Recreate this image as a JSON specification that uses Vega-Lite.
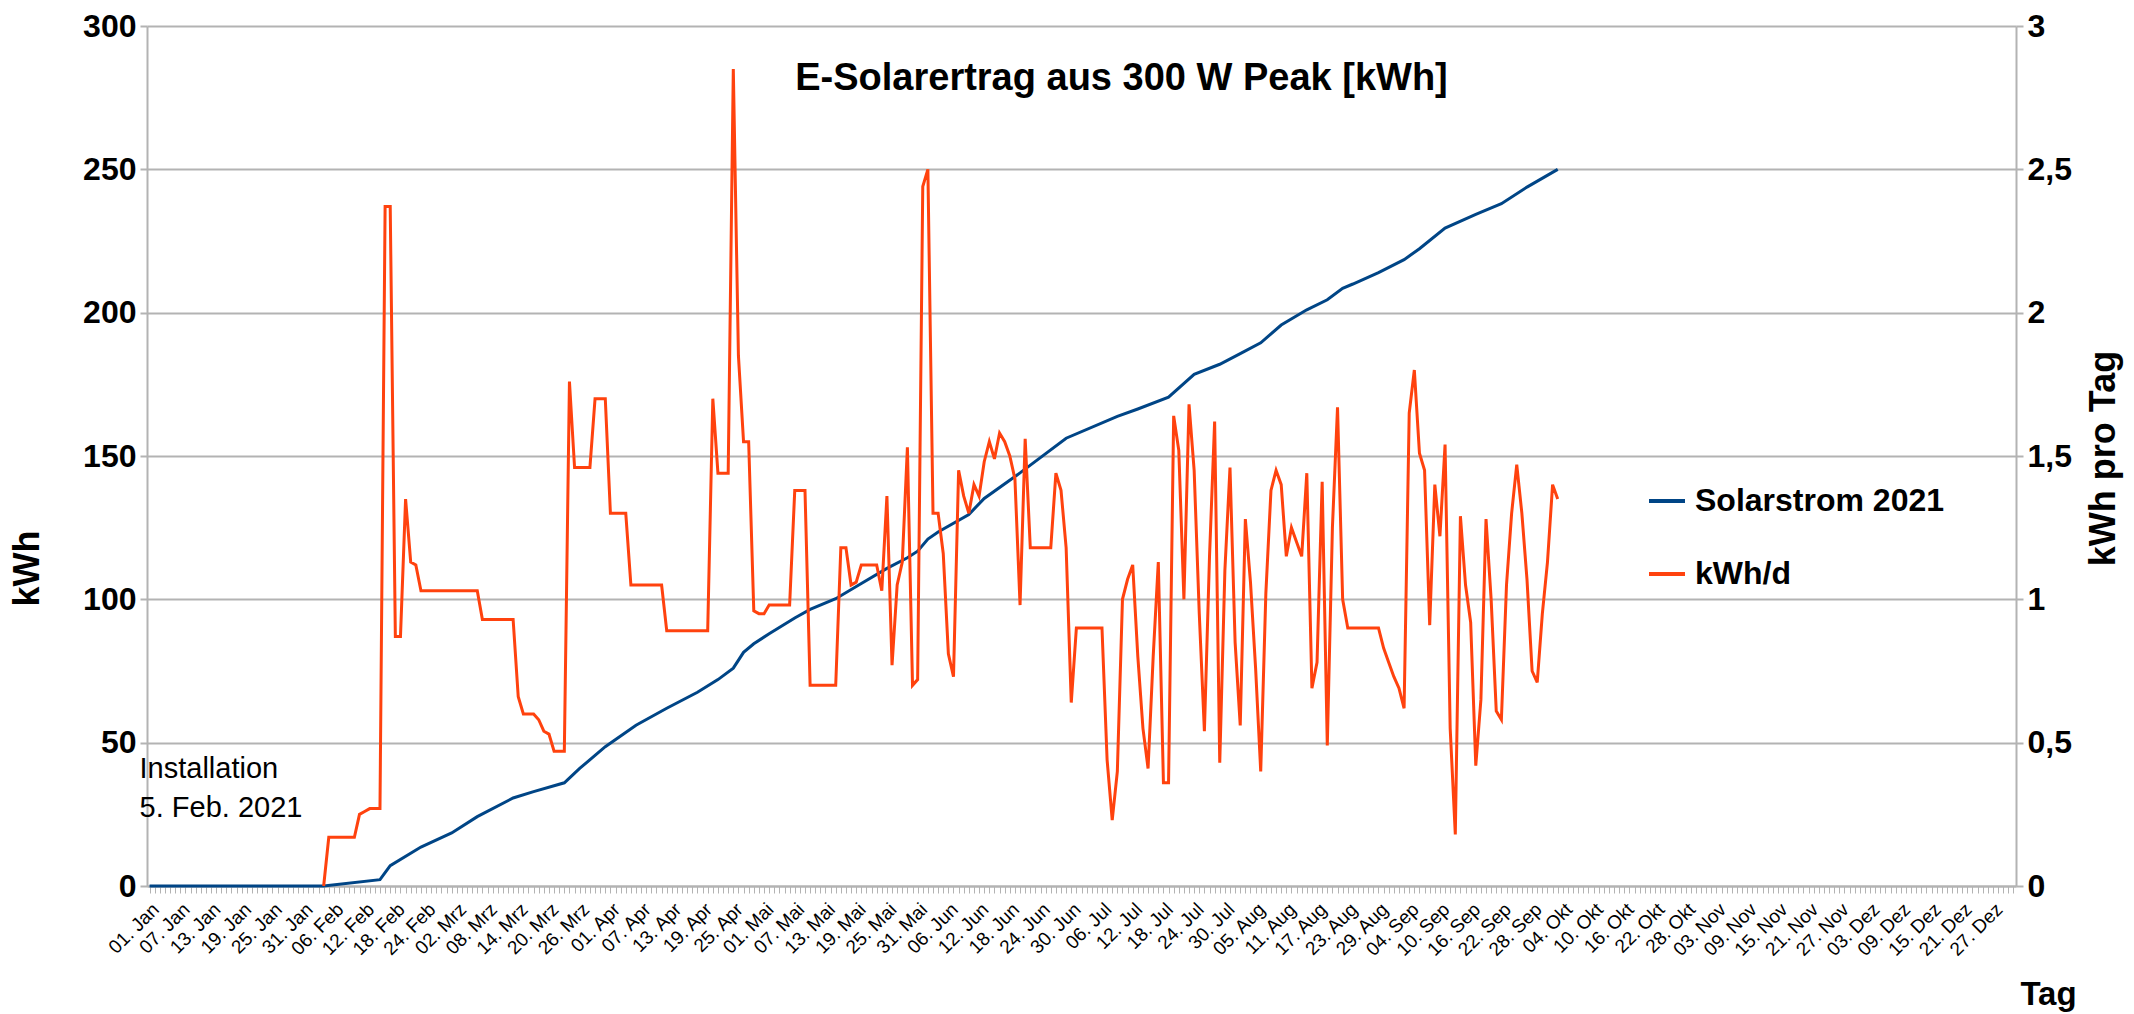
{
  "$schema": "https://vega.github.io/schema/vega-lite/v6.json",
  "width": 1869,
  "height": 860,
  "autosize": {"type": "none"},
  "padding": {"left": 147, "top": 26, "right": 118, "bottom": 128},
  "background": "white",
  "title": {
    "text": "E-Solarertrag aus 300 W Peak [kWh]",
    "fontSize": 38,
    "fontWeight": "bold",
    "color": "#000000",
    "anchor": "middle",
    "dx": 40,
    "offset": -118,
    "baseline": "alphabetic"
  },
  "datasets": {
    "cumulative": [
      {"date": "2021-01-01", "kwh": 0},
      {"date": "2021-02-04", "kwh": 0},
      {"date": "2021-02-15", "kwh": 2.2},
      {"date": "2021-02-17", "kwh": 7.1},
      {"date": "2021-02-23", "kwh": 13.6},
      {"date": "2021-03-01", "kwh": 18.5},
      {"date": "2021-03-06", "kwh": 24.2},
      {"date": "2021-03-13", "kwh": 30.7},
      {"date": "2021-03-17", "kwh": 32.9},
      {"date": "2021-03-23", "kwh": 36.0},
      {"date": "2021-03-26", "kwh": 41.0},
      {"date": "2021-03-31", "kwh": 48.6},
      {"date": "2021-04-06", "kwh": 56.1},
      {"date": "2021-04-12", "kwh": 62.0},
      {"date": "2021-04-18", "kwh": 67.6},
      {"date": "2021-04-22", "kwh": 72.0},
      {"date": "2021-04-25", "kwh": 76.0},
      {"date": "2021-04-27", "kwh": 81.5},
      {"date": "2021-04-29", "kwh": 84.5},
      {"date": "2021-05-02", "kwh": 88.0},
      {"date": "2021-05-07", "kwh": 93.5},
      {"date": "2021-05-10", "kwh": 96.5},
      {"date": "2021-05-15", "kwh": 100.2},
      {"date": "2021-05-20", "kwh": 105.5},
      {"date": "2021-05-25", "kwh": 110.8},
      {"date": "2021-05-29", "kwh": 114.5},
      {"date": "2021-05-31", "kwh": 116.8},
      {"date": "2021-06-02", "kwh": 121.0},
      {"date": "2021-06-04", "kwh": 123.5},
      {"date": "2021-06-10", "kwh": 129.6},
      {"date": "2021-06-13", "kwh": 135.2},
      {"date": "2021-06-20", "kwh": 144.1},
      {"date": "2021-06-29", "kwh": 156.2},
      {"date": "2021-07-09", "kwh": 163.8},
      {"date": "2021-07-13", "kwh": 166.4},
      {"date": "2021-07-19", "kwh": 170.5},
      {"date": "2021-07-24", "kwh": 178.5},
      {"date": "2021-07-29", "kwh": 182.0},
      {"date": "2021-08-02", "kwh": 185.7},
      {"date": "2021-08-06", "kwh": 189.5},
      {"date": "2021-08-10", "kwh": 195.7},
      {"date": "2021-08-15", "kwh": 201.0},
      {"date": "2021-08-19", "kwh": 204.5},
      {"date": "2021-08-22", "kwh": 208.5},
      {"date": "2021-08-24", "kwh": 210.0},
      {"date": "2021-08-29", "kwh": 214.0},
      {"date": "2021-09-03", "kwh": 218.5},
      {"date": "2021-09-06", "kwh": 222.3},
      {"date": "2021-09-11", "kwh": 229.5},
      {"date": "2021-09-17", "kwh": 234.3},
      {"date": "2021-09-22", "kwh": 238.0},
      {"date": "2021-09-27", "kwh": 243.8},
      {"date": "2021-10-03", "kwh": 250.0}
    ],
    "daily": [
      {"date": "2021-02-04", "kwh_d": 0},
      {"date": "2021-02-05", "kwh_d": 0.17},
      {"date": "2021-02-06", "kwh_d": 0.17},
      {"date": "2021-02-07", "kwh_d": 0.17},
      {"date": "2021-02-08", "kwh_d": 0.17},
      {"date": "2021-02-09", "kwh_d": 0.17},
      {"date": "2021-02-10", "kwh_d": 0.17},
      {"date": "2021-02-11", "kwh_d": 0.25},
      {"date": "2021-02-12", "kwh_d": 0.26},
      {"date": "2021-02-13", "kwh_d": 0.27},
      {"date": "2021-02-14", "kwh_d": 0.27},
      {"date": "2021-02-15", "kwh_d": 0.27},
      {"date": "2021-02-16", "kwh_d": 2.37},
      {"date": "2021-02-17", "kwh_d": 2.37},
      {"date": "2021-02-18", "kwh_d": 0.87},
      {"date": "2021-02-19", "kwh_d": 0.87},
      {"date": "2021-02-20", "kwh_d": 1.35},
      {"date": "2021-02-21", "kwh_d": 1.13},
      {"date": "2021-02-22", "kwh_d": 1.12},
      {"date": "2021-02-23", "kwh_d": 1.03},
      {"date": "2021-02-24", "kwh_d": 1.03},
      {"date": "2021-02-25", "kwh_d": 1.03},
      {"date": "2021-02-26", "kwh_d": 1.03},
      {"date": "2021-02-27", "kwh_d": 1.03},
      {"date": "2021-02-28", "kwh_d": 1.03},
      {"date": "2021-03-01", "kwh_d": 1.03},
      {"date": "2021-03-02", "kwh_d": 1.03},
      {"date": "2021-03-03", "kwh_d": 1.03},
      {"date": "2021-03-04", "kwh_d": 1.03},
      {"date": "2021-03-05", "kwh_d": 1.03},
      {"date": "2021-03-06", "kwh_d": 1.03},
      {"date": "2021-03-07", "kwh_d": 0.93},
      {"date": "2021-03-08", "kwh_d": 0.93},
      {"date": "2021-03-09", "kwh_d": 0.93},
      {"date": "2021-03-10", "kwh_d": 0.93},
      {"date": "2021-03-11", "kwh_d": 0.93},
      {"date": "2021-03-12", "kwh_d": 0.93},
      {"date": "2021-03-13", "kwh_d": 0.93},
      {"date": "2021-03-14", "kwh_d": 0.66},
      {"date": "2021-03-15", "kwh_d": 0.60},
      {"date": "2021-03-16", "kwh_d": 0.60},
      {"date": "2021-03-17", "kwh_d": 0.60},
      {"date": "2021-03-18", "kwh_d": 0.58},
      {"date": "2021-03-19", "kwh_d": 0.54},
      {"date": "2021-03-20", "kwh_d": 0.53},
      {"date": "2021-03-21", "kwh_d": 0.47},
      {"date": "2021-03-22", "kwh_d": 0.47},
      {"date": "2021-03-23", "kwh_d": 0.47},
      {"date": "2021-03-24", "kwh_d": 1.76},
      {"date": "2021-03-25", "kwh_d": 1.46},
      {"date": "2021-03-26", "kwh_d": 1.46},
      {"date": "2021-03-27", "kwh_d": 1.46},
      {"date": "2021-03-28", "kwh_d": 1.46},
      {"date": "2021-03-29", "kwh_d": 1.70},
      {"date": "2021-03-30", "kwh_d": 1.70},
      {"date": "2021-03-31", "kwh_d": 1.70},
      {"date": "2021-04-01", "kwh_d": 1.30},
      {"date": "2021-04-02", "kwh_d": 1.30},
      {"date": "2021-04-03", "kwh_d": 1.30},
      {"date": "2021-04-04", "kwh_d": 1.30},
      {"date": "2021-04-05", "kwh_d": 1.05},
      {"date": "2021-04-06", "kwh_d": 1.05},
      {"date": "2021-04-07", "kwh_d": 1.05},
      {"date": "2021-04-08", "kwh_d": 1.05},
      {"date": "2021-04-09", "kwh_d": 1.05},
      {"date": "2021-04-10", "kwh_d": 1.05},
      {"date": "2021-04-11", "kwh_d": 1.05},
      {"date": "2021-04-12", "kwh_d": 0.89},
      {"date": "2021-04-13", "kwh_d": 0.89},
      {"date": "2021-04-14", "kwh_d": 0.89},
      {"date": "2021-04-15", "kwh_d": 0.89},
      {"date": "2021-04-16", "kwh_d": 0.89},
      {"date": "2021-04-17", "kwh_d": 0.89},
      {"date": "2021-04-18", "kwh_d": 0.89},
      {"date": "2021-04-19", "kwh_d": 0.89},
      {"date": "2021-04-20", "kwh_d": 0.89},
      {"date": "2021-04-21", "kwh_d": 1.70},
      {"date": "2021-04-22", "kwh_d": 1.44},
      {"date": "2021-04-23", "kwh_d": 1.44},
      {"date": "2021-04-24", "kwh_d": 1.44},
      {"date": "2021-04-25", "kwh_d": 2.85},
      {"date": "2021-04-26", "kwh_d": 1.85},
      {"date": "2021-04-27", "kwh_d": 1.55},
      {"date": "2021-04-28", "kwh_d": 1.55},
      {"date": "2021-04-29", "kwh_d": 0.96},
      {"date": "2021-04-30", "kwh_d": 0.95},
      {"date": "2021-05-01", "kwh_d": 0.95},
      {"date": "2021-05-02", "kwh_d": 0.98},
      {"date": "2021-05-03", "kwh_d": 0.98},
      {"date": "2021-05-04", "kwh_d": 0.98},
      {"date": "2021-05-05", "kwh_d": 0.98},
      {"date": "2021-05-06", "kwh_d": 0.98},
      {"date": "2021-05-07", "kwh_d": 1.38},
      {"date": "2021-05-08", "kwh_d": 1.38},
      {"date": "2021-05-09", "kwh_d": 1.38},
      {"date": "2021-05-10", "kwh_d": 0.70},
      {"date": "2021-05-11", "kwh_d": 0.70},
      {"date": "2021-05-12", "kwh_d": 0.70},
      {"date": "2021-05-13", "kwh_d": 0.70},
      {"date": "2021-05-14", "kwh_d": 0.70},
      {"date": "2021-05-15", "kwh_d": 0.70},
      {"date": "2021-05-16", "kwh_d": 1.18},
      {"date": "2021-05-17", "kwh_d": 1.18},
      {"date": "2021-05-18", "kwh_d": 1.05},
      {"date": "2021-05-19", "kwh_d": 1.06},
      {"date": "2021-05-20", "kwh_d": 1.12},
      {"date": "2021-05-21", "kwh_d": 1.12},
      {"date": "2021-05-22", "kwh_d": 1.12},
      {"date": "2021-05-23", "kwh_d": 1.12},
      {"date": "2021-05-24", "kwh_d": 1.03},
      {"date": "2021-05-25", "kwh_d": 1.36},
      {"date": "2021-05-26", "kwh_d": 0.77},
      {"date": "2021-05-27", "kwh_d": 1.05},
      {"date": "2021-05-28", "kwh_d": 1.13},
      {"date": "2021-05-29", "kwh_d": 1.53},
      {"date": "2021-05-30", "kwh_d": 0.70},
      {"date": "2021-05-31", "kwh_d": 0.72},
      {"date": "2021-06-01", "kwh_d": 2.44},
      {"date": "2021-06-02", "kwh_d": 2.50},
      {"date": "2021-06-03", "kwh_d": 1.30},
      {"date": "2021-06-04", "kwh_d": 1.30},
      {"date": "2021-06-05", "kwh_d": 1.16},
      {"date": "2021-06-06", "kwh_d": 0.81},
      {"date": "2021-06-07", "kwh_d": 0.73},
      {"date": "2021-06-08", "kwh_d": 1.45},
      {"date": "2021-06-09", "kwh_d": 1.36},
      {"date": "2021-06-10", "kwh_d": 1.30},
      {"date": "2021-06-11", "kwh_d": 1.40},
      {"date": "2021-06-12", "kwh_d": 1.36},
      {"date": "2021-06-13", "kwh_d": 1.48},
      {"date": "2021-06-14", "kwh_d": 1.55},
      {"date": "2021-06-15", "kwh_d": 1.49},
      {"date": "2021-06-16", "kwh_d": 1.58},
      {"date": "2021-06-17", "kwh_d": 1.55},
      {"date": "2021-06-18", "kwh_d": 1.50},
      {"date": "2021-06-19", "kwh_d": 1.42},
      {"date": "2021-06-20", "kwh_d": 0.98},
      {"date": "2021-06-21", "kwh_d": 1.56},
      {"date": "2021-06-22", "kwh_d": 1.18},
      {"date": "2021-06-23", "kwh_d": 1.18},
      {"date": "2021-06-24", "kwh_d": 1.18},
      {"date": "2021-06-25", "kwh_d": 1.18},
      {"date": "2021-06-26", "kwh_d": 1.18},
      {"date": "2021-06-27", "kwh_d": 1.44},
      {"date": "2021-06-28", "kwh_d": 1.38},
      {"date": "2021-06-29", "kwh_d": 1.18},
      {"date": "2021-06-30", "kwh_d": 0.64},
      {"date": "2021-07-01", "kwh_d": 0.90},
      {"date": "2021-07-02", "kwh_d": 0.90},
      {"date": "2021-07-03", "kwh_d": 0.90},
      {"date": "2021-07-04", "kwh_d": 0.90},
      {"date": "2021-07-05", "kwh_d": 0.90},
      {"date": "2021-07-06", "kwh_d": 0.90},
      {"date": "2021-07-07", "kwh_d": 0.44},
      {"date": "2021-07-08", "kwh_d": 0.23},
      {"date": "2021-07-09", "kwh_d": 0.40},
      {"date": "2021-07-10", "kwh_d": 1.00},
      {"date": "2021-07-11", "kwh_d": 1.07},
      {"date": "2021-07-12", "kwh_d": 1.12},
      {"date": "2021-07-13", "kwh_d": 0.80},
      {"date": "2021-07-14", "kwh_d": 0.55},
      {"date": "2021-07-15", "kwh_d": 0.41},
      {"date": "2021-07-16", "kwh_d": 0.80},
      {"date": "2021-07-17", "kwh_d": 1.13},
      {"date": "2021-07-18", "kwh_d": 0.36},
      {"date": "2021-07-19", "kwh_d": 0.36},
      {"date": "2021-07-20", "kwh_d": 1.64},
      {"date": "2021-07-21", "kwh_d": 1.52},
      {"date": "2021-07-22", "kwh_d": 1.00},
      {"date": "2021-07-23", "kwh_d": 1.68},
      {"date": "2021-07-24", "kwh_d": 1.45},
      {"date": "2021-07-25", "kwh_d": 0.95},
      {"date": "2021-07-26", "kwh_d": 0.54},
      {"date": "2021-07-27", "kwh_d": 1.15},
      {"date": "2021-07-28", "kwh_d": 1.62},
      {"date": "2021-07-29", "kwh_d": 0.43},
      {"date": "2021-07-30", "kwh_d": 1.10},
      {"date": "2021-07-31", "kwh_d": 1.46},
      {"date": "2021-08-01", "kwh_d": 0.85},
      {"date": "2021-08-02", "kwh_d": 0.56},
      {"date": "2021-08-03", "kwh_d": 1.28},
      {"date": "2021-08-04", "kwh_d": 1.06},
      {"date": "2021-08-05", "kwh_d": 0.76},
      {"date": "2021-08-06", "kwh_d": 0.40},
      {"date": "2021-08-07", "kwh_d": 1.02},
      {"date": "2021-08-08", "kwh_d": 1.38},
      {"date": "2021-08-09", "kwh_d": 1.45},
      {"date": "2021-08-10", "kwh_d": 1.40},
      {"date": "2021-08-11", "kwh_d": 1.15},
      {"date": "2021-08-12", "kwh_d": 1.25},
      {"date": "2021-08-13", "kwh_d": 1.20},
      {"date": "2021-08-14", "kwh_d": 1.15},
      {"date": "2021-08-15", "kwh_d": 1.44},
      {"date": "2021-08-16", "kwh_d": 0.69},
      {"date": "2021-08-17", "kwh_d": 0.78},
      {"date": "2021-08-18", "kwh_d": 1.41},
      {"date": "2021-08-19", "kwh_d": 0.49},
      {"date": "2021-08-20", "kwh_d": 1.25},
      {"date": "2021-08-21", "kwh_d": 1.67},
      {"date": "2021-08-22", "kwh_d": 1.00},
      {"date": "2021-08-23", "kwh_d": 0.90},
      {"date": "2021-08-24", "kwh_d": 0.90},
      {"date": "2021-08-25", "kwh_d": 0.90},
      {"date": "2021-08-26", "kwh_d": 0.90},
      {"date": "2021-08-27", "kwh_d": 0.90},
      {"date": "2021-08-28", "kwh_d": 0.90},
      {"date": "2021-08-29", "kwh_d": 0.90},
      {"date": "2021-08-30", "kwh_d": 0.83},
      {"date": "2021-08-31", "kwh_d": 0.78},
      {"date": "2021-09-01", "kwh_d": 0.73},
      {"date": "2021-09-02", "kwh_d": 0.69},
      {"date": "2021-09-03", "kwh_d": 0.62},
      {"date": "2021-09-04", "kwh_d": 1.65},
      {"date": "2021-09-05", "kwh_d": 1.80},
      {"date": "2021-09-06", "kwh_d": 1.51},
      {"date": "2021-09-07", "kwh_d": 1.45},
      {"date": "2021-09-08", "kwh_d": 0.91},
      {"date": "2021-09-09", "kwh_d": 1.40},
      {"date": "2021-09-10", "kwh_d": 1.22},
      {"date": "2021-09-11", "kwh_d": 1.54},
      {"date": "2021-09-12", "kwh_d": 0.55},
      {"date": "2021-09-13", "kwh_d": 0.18},
      {"date": "2021-09-14", "kwh_d": 1.29},
      {"date": "2021-09-15", "kwh_d": 1.05},
      {"date": "2021-09-16", "kwh_d": 0.92},
      {"date": "2021-09-17", "kwh_d": 0.42},
      {"date": "2021-09-18", "kwh_d": 0.65},
      {"date": "2021-09-19", "kwh_d": 1.28},
      {"date": "2021-09-20", "kwh_d": 1.00},
      {"date": "2021-09-21", "kwh_d": 0.61},
      {"date": "2021-09-22", "kwh_d": 0.58},
      {"date": "2021-09-23", "kwh_d": 1.05},
      {"date": "2021-09-24", "kwh_d": 1.30},
      {"date": "2021-09-25", "kwh_d": 1.47},
      {"date": "2021-09-26", "kwh_d": 1.30},
      {"date": "2021-09-27", "kwh_d": 1.07},
      {"date": "2021-09-28", "kwh_d": 0.75},
      {"date": "2021-09-29", "kwh_d": 0.71},
      {"date": "2021-09-30", "kwh_d": 0.95},
      {"date": "2021-10-01", "kwh_d": 1.13},
      {"date": "2021-10-02", "kwh_d": 1.40},
      {"date": "2021-10-03", "kwh_d": 1.35}
    ],
    "note": [
      {"date": "2021-01-01", "kwh": 37.7, "text": "Installation|5. Feb. 2021"}
    ]
  },
  "layer": [
    {
      "data": {"name": "cumulative"},
      "mark": {"type": "line", "strokeWidth": 3},
      "encoding": {
        "x": {
          "field": "date",
          "type": "temporal",
          "scale": {
            "type": "utc",
            "domain": [
              {"year": 2020, "month": 12, "date": 31, "hours": 12, "utc": true},
              {"year": 2021, "month": 12, "date": 31, "hours": 12, "utc": true}
            ]
          },
          "axis": {
            "orient": "bottom",
            "values": [1609459200000, 1609977600000, 1610496000000, 1611014400000, 1611532800000, 1612051200000, 1612569600000, 1613088000000, 1613606400000, 1614124800000, 1614643200000, 1615161600000, 1615680000000, 1616198400000, 1616716800000, 1617235200000, 1617753600000, 1618272000000, 1618790400000, 1619308800000, 1619827200000, 1620345600000, 1620864000000, 1621382400000, 1621900800000, 1622419200000, 1622937600000, 1623456000000, 1623974400000, 1624492800000, 1625011200000, 1625529600000, 1626048000000, 1626566400000, 1627084800000, 1627603200000, 1628121600000, 1628640000000, 1629158400000, 1629676800000, 1630195200000, 1630713600000, 1631232000000, 1631750400000, 1632268800000, 1632787200000, 1633305600000, 1633824000000, 1634342400000, 1634860800000, 1635379200000, 1635897600000, 1636416000000, 1636934400000, 1637452800000, 1637971200000, 1638489600000, 1639008000000, 1639526400000, 1640044800000, 1640563200000],
            "labelExpr": "utcFormat(datum.value, '%d') + '. ' + ['Jan','Feb','Mrz','Apr','Mai','Jun','Jul','Aug','Sep','Okt','Nov','Dez'][utcmonth(datum.value)]",
            "labelAngle": -45,
            "labelAlign": "right",
            "labelBaseline": "middle",
            "labelFontSize": 19,
            "labelColor": "#000000",
            "labelPadding": 20,
            "labelOffset": 6,
            "labelOverlap": false,
            "labelFlush": false,
            "labelBound": false,
            "labelLimit": 300,
            "ticks": false,
            "domain": true,
            "domainColor": "#b3b3b3",
            "domainWidth": 2,
            "grid": false,
            "title": "Tag",
            "titleX": 1901,
            "titleY": 108,
            "titleAlign": "center",
            "titleBaseline": "middle",
            "titleFontSize": 33,
            "titleFontWeight": "bold",
            "titleColor": "#000000"
          }
        },
        "y": {
          "field": "kwh",
          "type": "quantitative",
          "scale": {"domain": [0, 300], "nice": false},
          "axis": {
            "orient": "left",
            "values": [0, 50, 100, 150, 200, 250, 300],
            "grid": true,
            "gridColor": "#b3b3b3",
            "gridWidth": 2,
            "domainColor": "#b3b3b3",
            "domainWidth": 2,
            "tickColor": "#b3b3b3",
            "tickSize": 7,
            "tickWidth": 2,
            "labelFontSize": 32,
            "labelFontWeight": "bold",
            "labelColor": "#000000",
            "labelPadding": 4,
            "title": "kWh",
            "titleAngle": 270,
            "titleX": -120,
            "titleY": 542,
            "titleAlign": "center",
            "titleBaseline": "middle",
            "titleFontSize": 36,
            "titleFontWeight": "bold",
            "titleColor": "#000000"
          }
        },
        "color": {
          "datum": "Solarstrom 2021",
          "type": "nominal",
          "scale": {"domain": ["Solarstrom 2021", "kWh/d"], "range": ["#004586", "#ff420e"]},
          "legend": {
            "orient": "none",
            "legendX": 1500,
            "legendY": 455,
            "title": null,
            "symbolType": "stroke",
            "symbolSize": 1296,
            "symbolStrokeWidth": 4,
            "labelFontSize": 32,
            "labelFontWeight": "bold",
            "labelColor": "#000000",
            "labelOffset": 8,
            "labelLimit": 400,
            "rowPadding": 37
          }
        }
      }
    },
    {
      "data": {"name": "daily"},
      "mark": {"type": "line", "strokeWidth": 3},
      "encoding": {
        "x": {
          "field": "date",
          "type": "temporal",
          "axis": {
            "orient": "bottom",
            "tickCount": {"interval": "day", "step": 1},
            "labels": false,
            "ticks": true,
            "tickSize": 7,
            "tickColor": "#b3b3b3",
            "tickWidth": 1,
            "domain": false,
            "grid": false,
            "title": null
          }
        },
        "y": {
          "field": "kwh_d",
          "type": "quantitative",
          "scale": {"domain": [0, 3], "nice": false},
          "axis": {
            "orient": "right",
            "values": [0, 0.5, 1, 1.5, 2, 2.5, 3],
            "labelExpr": "replace(toString(datum.value), '.', ',')",
            "grid": false,
            "domainColor": "#b3b3b3",
            "domainWidth": 2,
            "tickColor": "#b3b3b3",
            "tickSize": 7,
            "tickWidth": 2,
            "labelFontSize": 32,
            "labelFontWeight": "bold",
            "labelColor": "#000000",
            "labelPadding": 4,
            "title": "kWh pro Tag",
            "titleAngle": 270,
            "titleX": 87,
            "titleY": 432,
            "titleAlign": "center",
            "titleBaseline": "middle",
            "titleFontSize": 36,
            "titleFontWeight": "bold",
            "titleColor": "#000000"
          }
        },
        "color": {"datum": "kWh/d", "type": "nominal"}
      }
    },
    {
      "data": {"name": "note"},
      "mark": {"type": "text", "align": "left", "baseline": "alphabetic", "dx": -10, "fontSize": 29, "lineBreak": "|", "lineHeight": 39, "color": "#000000"},
      "encoding": {
        "x": {"field": "date", "type": "temporal", "axis": null},
        "y": {"field": "kwh", "type": "quantitative", "scale": {"domain": [0, 300], "nice": false}, "axis": null},
        "text": {"field": "text", "type": "nominal"}
      }
    }
  ],
  "resolve": {"scale": {"y": "independent"}, "axis": {"x": "independent"}},
  "config": {
    "view": {"stroke": null},
    "font": "Liberation Sans"
  }
}
